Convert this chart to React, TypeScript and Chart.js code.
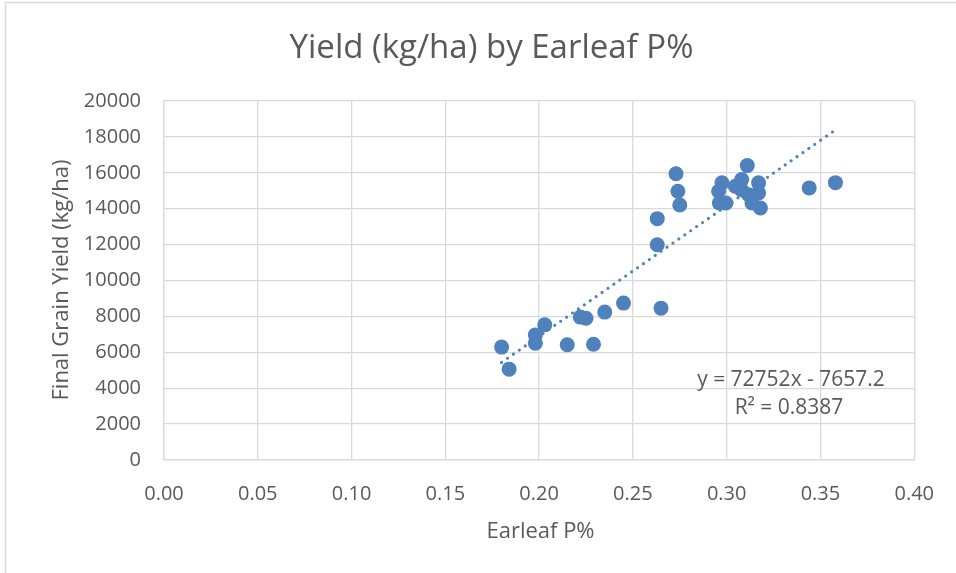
import React, { useEffect, useRef } from "react";
import { Chart, registerables } from "chart.js";

Chart.register(...registerables);

// ---- data ----
const earleafP = [
  0.180, 0.184, 0.198, 0.198, 0.203, 0.215, 0.229, 0.222, 0.225, 0.235,
  0.245, 0.265, 0.263, 0.263, 0.273, 0.274, 0.275, 0.311, 0.2975, 0.2957,
  0.2961, 0.2996, 0.308, 0.3078, 0.317, 0.317, 0.3135, 0.318, 0.3117, 0.3046,
  0.344, 0.358,
];
const yieldKgHa = [
  6290, 5060, 6970, 6510, 7530, 6420, 6450, 7960, 7900, 8240,
  8740, 8460, 11990, 13445, 15950, 14970, 14210, 16400, 15440, 14970,
  14320, 14320, 15620, 15060, 15440, 14880, 14320, 14040, 14780, 15250,
  15160, 15450,
];

const trendSlope = 72752;
const trendIntercept = -7657.2;

const chartTitle = "Yield (kg/ha) by Earleaf P%";
const xAxisTitle = "Earleaf P%";
const yAxisTitle = "Final Grain Yield (kg/ha)";
const equationLines = ["y = 72752x - 7657.2", "R² = 0.8387"];

const xMin = 0;
const xMax = 0.4;
const xStep = 0.05;
const yMin = 0;
const yMax = 20000;
const yStep = 2000;

const TEXT = "#595959";
const GRID = "#d9d9d9";
const MARK = "#4F81BD";
const FONT = '"Open Sans", "Noto Sans", sans-serif';

export default function App() {
  const ref = useRef<HTMLCanvasElement | null>(null);

  useEffect(() => {
    const canvas = ref.current;
    if (!canvas) return;

    const points = earleafP.map((x, i) => ({ x, y: yieldKgHa[i] }));
    const tMin = Math.min(...earleafP);
    const tMax = Math.max(...earleafP);
    const trend = [
      { x: tMin, y: trendSlope * tMin + trendIntercept },
      { x: tMax, y: trendSlope * tMax + trendIntercept },
    ];

    const textPlugin = {
      id: "excelText",
      beforeDraw(chart: any) {
        const ctx = chart.ctx;
        ctx.save();
        ctx.fillStyle = "#ffffff";
        ctx.fillRect(0, 0, chart.width, chart.height);
        ctx.restore();
      },
      afterDraw(chart: any) {
        const ctx = chart.ctx;
        ctx.save();
        // outer chart frame
        ctx.strokeStyle = GRID;
        ctx.lineWidth = 1.5;
        ctx.beginPath();
        ctx.moveTo(5.5, chart.height + 2);
        ctx.lineTo(5.5, 2.5);
        ctx.lineTo(chart.width + 2, 2.5);
        ctx.stroke();

        ctx.fillStyle = TEXT;
        ctx.textAlign = "center";
        ctx.textBaseline = "alphabetic";
        // title
        ctx.font = `400 33px ${FONT}`;
        ctx.fillText(chartTitle, 491.5, 58);
        // x axis title
        ctx.font = `22px ${FONT}`;
        ctx.fillText(xAxisTitle, 540.5, 538);
        // y axis title
        ctx.save();
        ctx.translate(68, 280);
        ctx.rotate(-Math.PI / 2);
        ctx.fillText(yAxisTitle, 0, 0);
        ctx.restore();
        // trendline equation
        ctx.font = `21px ${FONT}`;
        ctx.fillText(equationLines[0], 791, 386);
        ctx.fillText(equationLines[1], 789, 414);
        ctx.restore();
      },
    };

    const chart = new Chart(canvas, {
      type: "scatter",
      data: {
        datasets: [
          {
            label: "Trend",
            data: trend,
            showLine: true,
            borderColor: MARK,
            borderWidth: 3.2,
            borderDash: [0, 7.2],
            borderCapStyle: "round",
            pointRadius: 0,
            pointHoverRadius: 0,
            fill: false,
            order: 0,
          } as any,
          {
            label: "Yield",
            data: points,
            backgroundColor: MARK,
            borderColor: MARK,
            borderWidth: 0,
            pointRadius: 7.5,
            pointHoverRadius: 7.5,
            order: 1,
          },
        ],
      },
      options: {
        responsive: false,
        animation: false,
        devicePixelRatio: 1,
        layout: { padding: { top: 101, right: 40, bottom: 53, left: 0 } },
        plugins: {
          legend: { display: false },
          tooltip: { enabled: false },
          title: { display: false },
        },
        scales: {
          x: {
            type: "linear",
            min: xMin,
            max: xMax,
            afterFit: (s: any) => {
              s.height = 60;
            },
            ticks: {
              stepSize: xStep,
              padding: 22,
              color: TEXT,
              font: { family: FONT, size: 20 },
              callback: (v: any) => Number(v).toFixed(2),
            },
            grid: { color: GRID, lineWidth: 1.3, drawTicks: false },
            border: { color: GRID, width: 1.3 },
          },
          y: {
            type: "linear",
            min: yMin,
            max: yMax,
            afterFit: (s: any) => {
              s.width = 164;
            },
            ticks: {
              stepSize: yStep,
              padding: 23,
              color: TEXT,
              font: { family: FONT, size: 20 },
              callback: (v: any) => String(Math.round(Number(v))),
            },
            grid: { color: GRID, lineWidth: 1.3, drawTicks: false },
            border: { color: GRID, width: 1.3 },
          },
        },
      },
      plugins: [textPlugin],
    });

    return () => chart.destroy();
  }, []);

  return (
    <div
      style={{
        position: "fixed",
        left: 0,
        top: 0,
        width: 956,
        height: 573,
        background: "#ffffff",
      }}
    >
      <canvas ref={ref} width={956} height={573} style={{ display: "block" }} />
    </div>
  );
}
